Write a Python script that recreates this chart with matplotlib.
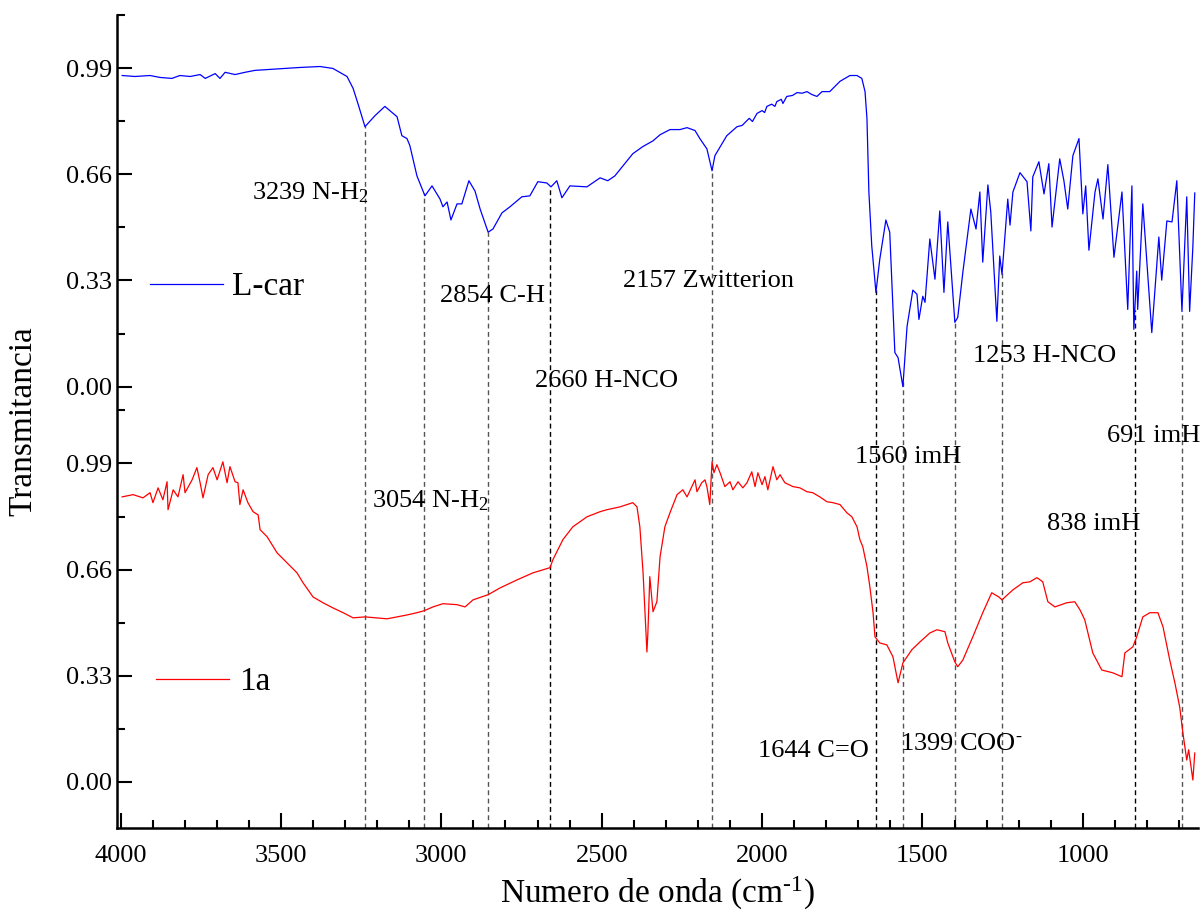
import numpy as np
import matplotlib
matplotlib.use("Agg")
import matplotlib.pyplot as plt
from matplotlib.lines import Line2D

plt.rcParams['font.family'] = 'Liberation Serif'
plt.rcParams['mathtext.fontset'] = 'custom'
plt.rcParams['mathtext.rm'] = 'Liberation Serif'
plt.rcParams['mathtext.default'] = 'regular'

# L-car spectrum (upper trace)
lcar_wn = [3995, 3955, 3908, 3877, 3840, 3815, 3783, 3752, 3736, 3705, 3690, 3674, 3643, 3612, 3581,
           3534, 3487, 3441, 3378, 3338, 3294, 3275, 3260, 3238, 3207, 3176, 3138, 3123, 3107, 3098,
           3076, 3051, 3029, 3004, 2995, 2982, 2970, 2951, 2936, 2914, 2895, 2879, 2854, 2839, 2811,
           2786, 2749, 2724, 2699, 2671, 2658, 2640, 2624, 2599, 2546, 2505, 2481, 2459, 2434, 2403,
           2372, 2340, 2318, 2287, 2256, 2234, 2209, 2194, 2172, 2156, 2147,
           2110, 2078, 2062, 2047, 2040, 2030, 2016, 2000, 1992, 1985, 1970, 1960,
           1954, 1940, 1935, 1923, 1905, 1891, 1875, 1860, 1845, 1829,
           1813, 1789, 1757, 1726, 1704, 1689, 1679, 1673, 1667,
           1658, 1645, 1633, 1614, 1602, 1586, 1576, 1561, 1548, 1530, 1517, 1511, 1499, 1492, 1477,
           1461, 1446, 1433, 1421, 1399, 1390, 1374, 1349, 1333, 1321, 1312, 1296, 1287, 1268, 1259,
           1252, 1234, 1227, 1218, 1196, 1174, 1162, 1156, 1137, 1121, 1106, 1096, 1072, 1059, 1047,
           1031, 1012, 1000, 991, 981, 962, 953, 937, 922, 903, 878, 860, 847, 841, 832,
           829, 813, 785, 763, 754, 738, 722, 707, 691, 676, 667, 657, 651]
lcar_t = [0.967, 0.964, 0.967, 0.961, 0.958, 0.967, 0.964, 0.970, 0.958, 0.973, 0.958, 0.977, 0.970, 0.977, 0.983,
          0.986, 0.989, 0.992, 0.995, 0.989, 0.964, 0.927, 0.880, 0.808, 0.842, 0.871, 0.839, 0.780, 0.771, 0.749,
          0.655, 0.593, 0.624, 0.583, 0.559, 0.574, 0.518, 0.568, 0.568, 0.640, 0.608, 0.552, 0.480, 0.490, 0.540,
          0.559, 0.590, 0.593, 0.637, 0.633, 0.621, 0.640, 0.587, 0.624, 0.621, 0.649, 0.640, 0.655, 0.686, 0.724,
          0.746, 0.764, 0.783, 0.799, 0.799, 0.805, 0.796, 0.771, 0.739, 0.671, 0.718,
          0.780, 0.808, 0.812, 0.827, 0.834, 0.824, 0.849, 0.858, 0.852, 0.871, 0.878, 0.871,
          0.886, 0.893, 0.880, 0.902, 0.905, 0.914, 0.912, 0.917, 0.908, 0.902,
          0.917, 0.917, 0.949, 0.967, 0.967, 0.958, 0.917, 0.833, 0.605,
          0.437, 0.293, 0.396, 0.518, 0.480, 0.106, 0.090, 0.000, 0.187, 0.300, 0.287, 0.209, 0.281, 0.262, 0.459,
          0.334, 0.546, 0.293, 0.512, 0.200, 0.215, 0.356, 0.552, 0.490, 0.605, 0.387, 0.627, 0.543, 0.203, 0.406,
          0.349, 0.583, 0.502, 0.605, 0.665, 0.637, 0.484, 0.652, 0.699, 0.599, 0.693, 0.496, 0.708, 0.640, 0.552,
          0.718, 0.771, 0.537, 0.624, 0.424, 0.605, 0.646, 0.521, 0.690, 0.402, 0.605, 0.240, 0.624, 0.178, 0.359,
          0.240, 0.568, 0.168, 0.465, 0.331, 0.515, 0.512, 0.640, 0.234, 0.590, 0.234, 0.434, 0.602]

# 1a spectrum (lower trace)
s1a_wn = [3995, 3961, 3930, 3908, 3899, 3883, 3868, 3855, 3852, 3836, 3821, 3805, 3799, 3777, 3762,
          3752, 3743, 3727, 3712, 3699, 3681, 3668, 3659, 3643, 3634, 3628, 3618, 3603, 3587, 3571,
          3565, 3543, 3512, 3481, 3450, 3431, 3400, 3369, 3338, 3306, 3275, 3238, 3169, 3107, 3076,
          3054, 3026, 2995, 2951, 2926, 2901, 2854, 2817, 2764, 2714, 2661, 2652, 2621, 2590, 2546,
          2505, 2484, 2443, 2403, 2390, 2381, 2371, 2359, 2356, 2350, 2340, 2328, 2318, 2303, 2287,
          2265, 2247, 2234, 2219, 2209, 2203, 2188, 2178, 2172, 2163, 2156, 2150, 2141, 2131, 2116,
          2100, 2091, 2075, 2060, 2047, 2032, 2022, 2013, 2000, 1991, 1982, 1966, 1954, 1944, 1929,
          1904, 1882, 1860, 1842, 1820, 1798, 1779, 1757, 1736, 1720, 1704, 1695, 1686, 1673, 1664,
          1654, 1648, 1633, 1611, 1592, 1576, 1561, 1533, 1508, 1477, 1455, 1430, 1421, 1399, 1390,
          1374, 1343, 1312, 1284, 1262, 1252, 1218, 1187, 1165, 1143, 1125, 1109, 1087, 1050, 1025,
          1009, 994, 969, 941, 906, 878, 869, 844, 832, 813, 791, 766, 750, 729, 713,
          698, 688, 676, 670, 657, 651]
s1a_t = [0.886, 0.893, 0.883, 0.899, 0.868, 0.914, 0.877, 0.933, 0.846, 0.908, 0.886, 0.955, 0.899, 0.939, 0.977,
         0.930, 0.883, 0.955, 0.977, 0.939, 0.995, 0.930, 0.980, 0.933, 0.930, 0.862, 0.908, 0.868, 0.840, 0.830,
         0.784, 0.762, 0.712, 0.681, 0.650, 0.619, 0.575, 0.557, 0.541, 0.526, 0.510, 0.513, 0.507, 0.519, 0.526,
         0.532, 0.544, 0.554, 0.551, 0.544, 0.566, 0.582, 0.603, 0.628, 0.650, 0.666, 0.691, 0.753, 0.793, 0.824,
         0.840, 0.846, 0.855, 0.868, 0.855, 0.793, 0.650, 0.404, 0.463, 0.638, 0.529, 0.560, 0.700, 0.793, 0.837,
         0.893, 0.908, 0.886, 0.918, 0.939, 0.902, 0.930, 0.939, 0.918, 0.862, 0.995, 0.961, 0.986, 0.961, 0.918,
         0.933, 0.908, 0.933, 0.914, 0.930, 0.964, 0.918, 0.961, 0.924, 0.949, 0.908, 0.980, 0.939, 0.955, 0.930,
         0.918, 0.914, 0.902, 0.899, 0.886, 0.871, 0.868, 0.862, 0.837, 0.824, 0.793, 0.753, 0.731, 0.669, 0.607,
         0.526, 0.451, 0.432, 0.426, 0.389, 0.308, 0.370, 0.411, 0.435, 0.463, 0.473, 0.467, 0.432, 0.373, 0.358,
         0.379, 0.451, 0.526, 0.588, 0.575, 0.566, 0.597, 0.619, 0.622, 0.635, 0.622, 0.560, 0.544, 0.557, 0.560,
         0.535, 0.504, 0.401, 0.348, 0.339, 0.327, 0.401, 0.420, 0.451, 0.513, 0.526, 0.526, 0.482, 0.379, 0.308,
         0.233, 0.152, 0.068, 0.100, 0.006, 0.090]

# marked bands
band_wn = [3239, 3054, 2854, 2660, 2157, 1644, 1560, 1399, 1253, 838, 691]
band_dark = [False, False, False, True, False, True, False, False, False, True, False]
band_text = ['3239 N-H$_2$', '3054 N-H$_2$', '2854 C-H', '2660 H-NCO', '2157 Zwitterion',
             '1644 C=O', '1560 imH', r'1399 COO$^{\text{-}}$', '1253 H-NCO', '838 imH', '691 imH']
# left edge (wavenumber) and baseline (stacked y) of every label
text_x = [3590, 3216, 3004, 2708, 2434, 2013, 1711, 1570, 1343, 1112, 925]
text_y = [1.810, 0.852, 1.493, 1.226, 1.537, 0.078, 0.992, 0.100, 1.306, 0.784, 1.058]

offset = 1.2286  # upper trace shifted up
yticks = [0.00, 0.33, 0.66, 0.99]
yminor = [0.165, 0.495, 0.825, 1.155]

fig = plt.figure(figsize=(12.04, 9.22), dpi=100)
ax = fig.add_axes([0.0972, 0.1020, 0.8978, 0.8817])

blue, = ax.plot(lcar_wn, np.array(lcar_t) + offset, color='#0000ff', lw=0.9)
red, = ax.plot(s1a_wn, s1a_t, color='#ff0000', lw=0.9)

up_wn = lcar_wn[::-1]
up_t = lcar_t[::-1]
for wn, dark in zip(band_wn, band_dark):
    top = np.interp(wn, up_wn, up_t) + offset
    ax.plot([wn, wn], [-0.143, top], color='black' if dark else '#555555',
            lw=1.0, ls=(0, (3.5, 2.5)), zorder=1)

for t, x, y in zip(band_text, text_x, text_y):
    ax.text(x, y, t, fontsize=19, ha='left', va='baseline')

ax.set_xlim(4011, 641)
ax.set_ylim(-0.143, offset + 1.155)

ax.set_xticks([4000, 3500, 3000, 2500, 2000, 1500, 1000])
ax.set_xticks(np.arange(700, 4001, 100), minor=True)
ax.set_yticks(yticks + [v + offset for v in yticks])
ax.set_yticklabels(['%.2f' % v for v in yticks] * 2)
ax.set_yticks(yminor + [v + offset for v in yminor], minor=True)

ax.tick_params(which='both', direction='in', labelsize=19, width=1.5)
ax.tick_params(which='major', length=11)
ax.tick_params(which='minor', length=6)
ax.tick_params(axis='x', pad=12)
for s in ['top', 'right']:
    ax.spines[s].set_visible(False)
for s in ['left', 'bottom']:
    ax.spines[s].set_linewidth(1.8)

ax.set_xlabel(r'Numero de onda (cm$^{\text{-1}}$)', fontsize=24, labelpad=6)
ax.set_ylabel('Transmitancia', fontsize=24, labelpad=20)

leg1 = ax.legend([Line2D([], [], color='#0000ff', lw=0.9)], ['L-car'], loc='center left',
                 bbox_to_anchor=(0.0305, 0.6654), frameon=False, fontsize=24,
                 handlelength=2.2, handletextpad=0.27, borderpad=0, borderaxespad=0)
ax.add_artist(leg1)
ax.legend([Line2D([], [], color='#ff0000', lw=0.9)], ['1a'], loc='center left',
          bbox_to_anchor=(0.0361, 0.1796), frameon=False, fontsize=24,
          handlelength=2.2, handletextpad=0.3, borderpad=0, borderaxespad=0)

fig.savefig('out.png', dpi=100)
